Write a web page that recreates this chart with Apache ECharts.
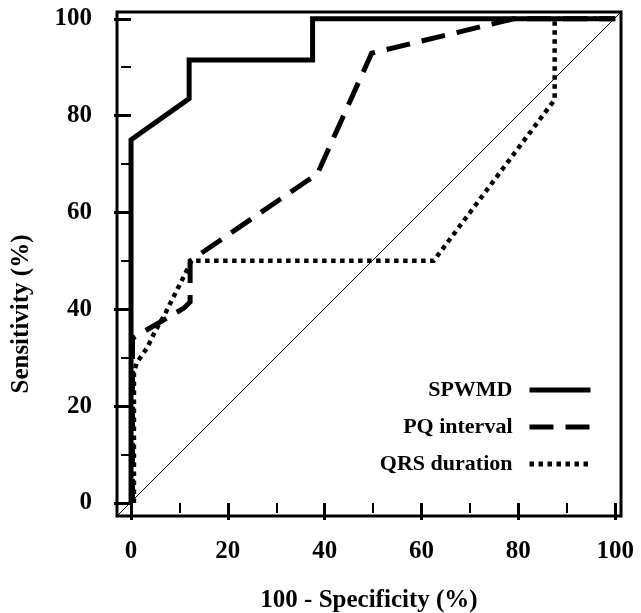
<!DOCTYPE html>
<html>
<head>
  <meta charset="utf-8" />
  <title>ROC</title>
  <script src="https://cdn.jsdelivr.net/npm/echarts@6.0.0/dist/echarts.min.js"></script>
  <style>
    html, body { margin: 0; padding: 0; background: #fff; }
    #main { width: 641px; height: 613px; }
  </style>
</head>
<body>
  <div id="main"></div>
  <script type="text/javascript">
    // values
    const seriesNames = ['SPWMD', 'PQ interval', 'QRS duration'];
    const spwmdX = [0, 0, 12, 12, 37.5, 37.5, 100];
    const spwmdY = [0, 75, 83.5, 91.5, 91.5, 100, 100];
    const pqX = [0.3, 0.3, 11, 12.2, 12.2, 38.5, 49.7, 79, 100];
    const pqY = [0, 34, 40.3, 41.5, 50, 68, 92.9, 100, 100];
    const qrsX = [0.6, 0.6, 1.2, 3.3, 5, 7, 8.5, 12.5, 62.5, 87.5, 87.5, 100];
    const qrsY = [0, 27, 29, 32, 35.5, 39, 42, 50, 50, 83.3, 100, 100];
    const majorTicks = [0, 20, 40, 60, 80, 100];
    const minorTicks = [10, 30, 50, 70, 90];
    const refX = [-2.9, 101.2];
    const refY = [-2.7, 101.4];

    const pairs = (xs, ys) => xs.map((x, i) => [x, ys[i]]);
    const font = 'Liberation Serif';

    const myChart = echarts.init(document.getElementById('main'));

    function axis(dim, ticks, len, withLabel) {
      const isX = dim === 'x';
      return {
        type: 'value',
        min: isX ? refX[0] : refY[0],
        max: isX ? refX[1] : refY[1],
        position: isX ? 'bottom' : 'left',
        axisLine: { show: false },
        splitLine: { show: false },
        axisTick: {
          show: true,
          inside: false,
          length: len,
          customValues: ticks,
          lineStyle: { color: '#000', width: withLabel ? 3 : 2 }
        },
        axisLabel: withLabel ? {
          show: true,
          customValues: ticks,
          color: '#000',
          fontFamily: font,
          fontWeight: 'bold',
          fontSize: 25,
          margin: isX ? 23 : 25
        } : { show: false }
      };
    }

    const xMain = axis('x', majorTicks, 17, true);
    xMain.name = '100 - Specificity (%)';
    xMain.nameLocation = 'middle';
    xMain.nameGap = 72;
    xMain.nameTextStyle = { color: '#000', fontFamily: font, fontWeight: 'bold', fontSize: 25 };

    const lineStyles = [
      { color: '#000', width: 5, type: 'solid', cap: 'butt', join: 'miter' },
      { color: '#000', width: 5, type: [24, 12], cap: 'butt', join: 'miter' },
      { color: '#000', width: 4.5, type: [4.5, 4.5], cap: 'butt', join: 'miter' }
    ];

    myChart.setOption({
      animation: false,
      backgroundColor: '#fff',
      grid: {
        left: 117, right: 20, top: 12, bottom: 97,
        outerBoundsMode: 'none',
        containLabel: false,
        show: true, borderColor: '#000', borderWidth: 3, backgroundColor: 'transparent'
      },
      xAxis: [xMain, axis('x', minorTicks, 10, false)],
      yAxis: [axis('y', majorTicks, 17, true), axis('y', minorTicks, 10, false)],
      graphic: [{
        type: 'text',
        x: 22, y: 314,
        rotation: Math.PI / 2,
        style: {
          text: 'Sensitivity (%)',
          fill: '#000',
          font: 'bold 25px "Liberation Serif"',
          align: 'center',
          verticalAlign: 'middle'
        }
      }],
      legend: {
        data: seriesNames,
        orient: 'vertical',
        right: 43,
        top: 373,
        align: 'right',
        itemWidth: 61,
        itemHeight: 24,
        itemGap: 13,
        itemStyle: { opacity: 0 },
        lineStyle: { width: 5, color: '#000' },
        textStyle: {
          color: '#000', fontFamily: font, fontWeight: 'bold', fontSize: 22,
          lineHeight: 24, padding: [0, 12, 0, 0]
        }
      },
      series: [
        {
          name: 'ref',
          type: 'line',
          data: pairs(refX, refY),
          symbol: 'none',
          silent: true,
          lineStyle: { color: '#000', width: 1 },
          z: 1
        },
        {
          name: seriesNames[2],
          type: 'line',
          data: pairs(qrsX, qrsY),
          symbol: 'none',
          itemStyle: { color: '#000' },
          lineStyle: lineStyles[2],
          z: 2
        },
        {
          name: seriesNames[1],
          type: 'line',
          data: pairs(pqX, pqY),
          symbol: 'none',
          itemStyle: { color: '#000' },
          lineStyle: lineStyles[1],
          z: 3
        },
        {
          name: seriesNames[0],
          type: 'line',
          data: pairs(spwmdX, spwmdY),
          symbol: 'none',
          itemStyle: { color: '#000' },
          lineStyle: lineStyles[0],
          z: 4
        }
      ]
    });
  </script>
</body>
</html>
